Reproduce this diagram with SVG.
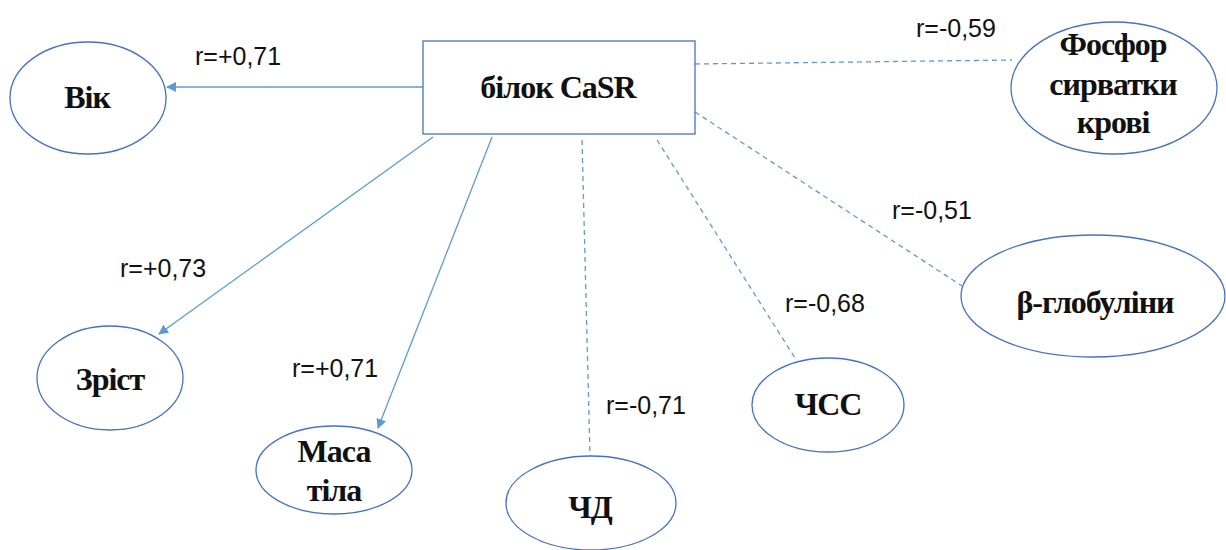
<svg xmlns="http://www.w3.org/2000/svg" width="1226" height="550" viewBox="0 0 1226 550">
  <style>
    .node { fill: #ffffff; stroke: #4472C4; stroke-width: 1.3; }
    .name { font-family: "Liberation Serif", "Times New Roman", serif; font-weight: bold; font-size: 32px; letter-spacing: -1px; fill: #111; text-anchor: middle; }
    .link { stroke: #5B9BD5; stroke-width: 1.3; fill: none; }
    .dash { stroke-dasharray: 5 4; }
    .coef { font-family: "Liberation Sans", Arial, sans-serif; font-size: 25px; fill: #111; }
  </style>
  <defs>
    <marker id="arrow" viewBox="0 0 10 10" refX="9" refY="5" markerWidth="10" markerHeight="10" markerUnits="userSpaceOnUse" orient="auto">
      <path d="M0,0 L10,5 L0,10 z" fill="#5B9BD5"/>
    </marker>
  </defs>
  <rect width="1226" height="550" fill="#ffffff"/>

  <g id="connectors">
    <line class="link" x1="423" y1="87" x2="167" y2="87" marker-end="url(#arrow)"/>
    <line class="link" x1="433" y1="137" x2="159" y2="334" marker-end="url(#arrow)"/>
    <line class="link" x1="492" y1="137" x2="378" y2="428" marker-end="url(#arrow)"/>
    <line class="link dash" x1="582" y1="140" x2="590" y2="456"/>
    <line class="link dash" x1="657" y1="140" x2="795" y2="358"/>
    <line class="link dash" x1="695" y1="112" x2="962" y2="286"/>
    <line class="link dash" x1="695" y1="64" x2="1012" y2="60"/>
  </g>

  <g id="labels">
    <text class="coef" x="195" y="65">r=+0,71</text>
    <text class="coef" x="120" y="277">r=+0,73</text>
    <text class="coef" x="292" y="377">r=+0,71</text>
    <text class="coef" x="606" y="414">r=-0,71</text>
    <text class="coef" x="785" y="312">r=-0,68</text>
    <text class="coef" x="892" y="219">r=-0,51</text>
    <text class="coef" x="916" y="37">r=-0,59</text>
  </g>

  <g id="casr">
    <rect class="node" x="423" y="41" width="272" height="93"/>
    <text class="name" x="558" y="98">білок CaSR</text>
  </g>
  <g id="vik">
    <ellipse class="node" cx="88" cy="98" rx="78" ry="56"/>
    <text class="name" x="87" y="108">Вік</text>
  </g>
  <g id="zrist">
    <ellipse class="node" cx="110" cy="378" rx="73" ry="52"/>
    <text class="name" x="110" y="390">Зріст</text>
  </g>
  <g id="masa">
    <ellipse class="node" cx="334" cy="470" rx="78" ry="44"/>
    <text class="name" x="334" y="462">Маса</text>
    <text class="name" x="334" y="501">тіла</text>
  </g>
  <g id="chd">
    <ellipse class="node" cx="591" cy="503" rx="85" ry="47"/>
    <text class="name" x="590" y="518">ЧД</text>
  </g>
  <g id="chss">
    <ellipse class="node" cx="828" cy="405" rx="76" ry="47"/>
    <text class="name" x="828" y="415">ЧСС</text>
  </g>
  <g id="globuliny">
    <ellipse class="node" cx="1093" cy="296" rx="132" ry="61"/>
    <text class="name" x="1095" y="313">β-глобуліни</text>
  </g>
  <g id="fosfor">
    <ellipse class="node" cx="1114" cy="88" rx="103" ry="66"/>
    <text class="name" x="1113" y="55">Фосфор</text>
    <text class="name" x="1113" y="95">сирватки</text>
    <text class="name" x="1113" y="133">крові</text>
  </g>
</svg>
